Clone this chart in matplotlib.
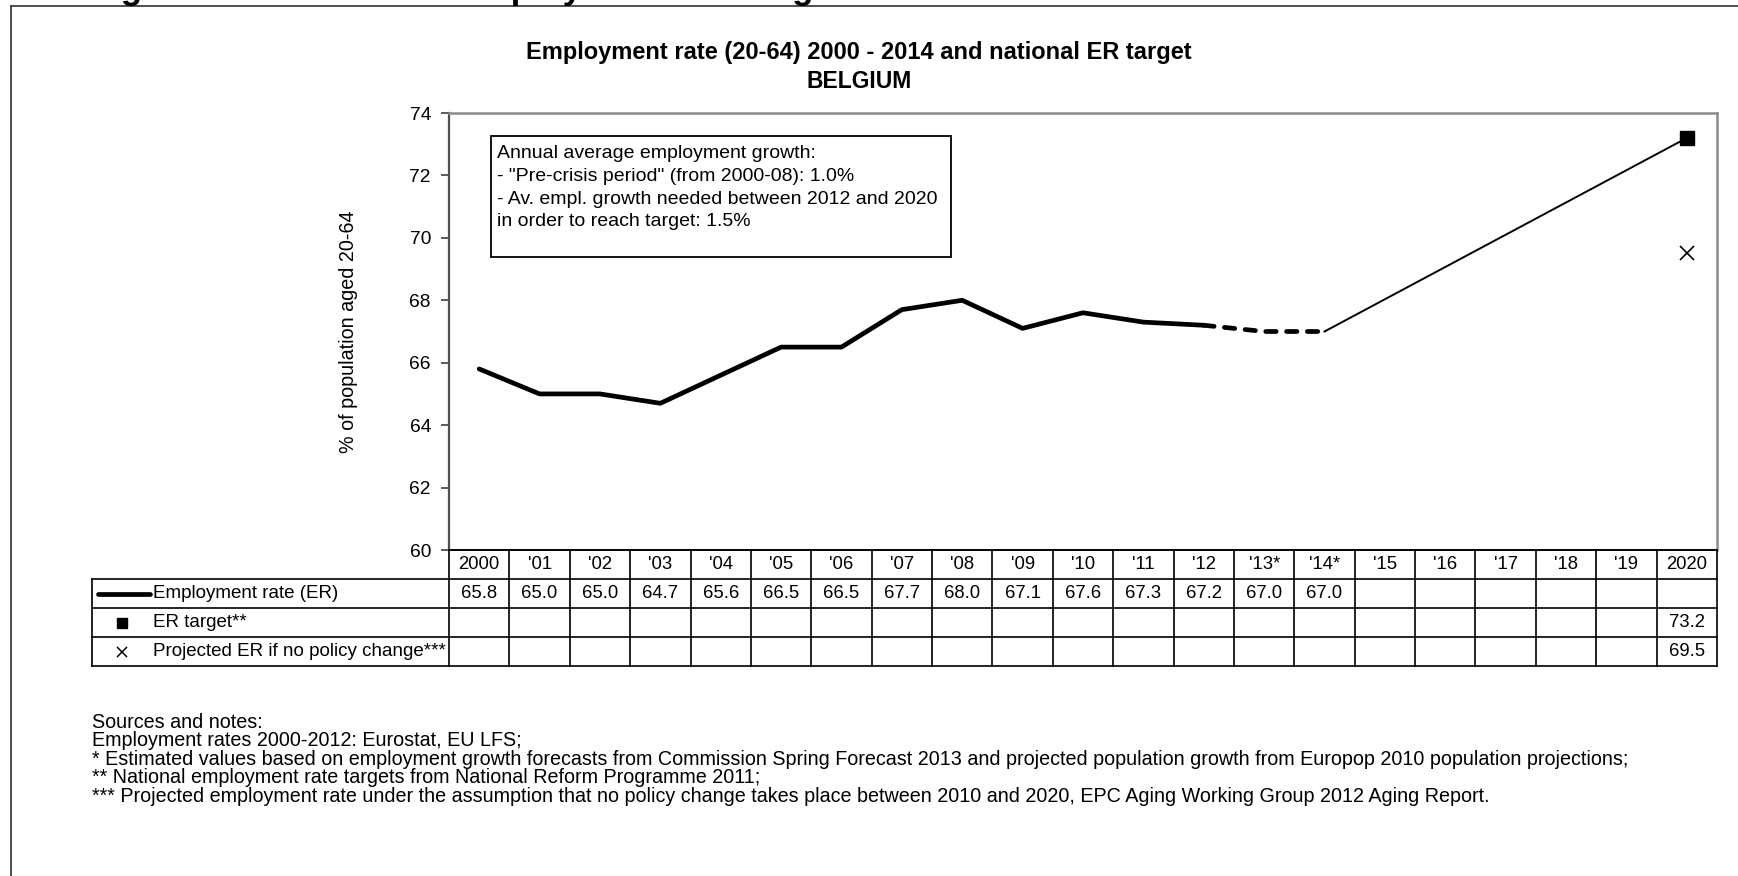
import matplotlib
matplotlib.use('Agg')
import matplotlib.pyplot as plt
from matplotlib.transforms import blended_transform_factory
from matplotlib.patches import Rectangle
from matplotlib.lines import Line2D

plt.rcParams['font.family'] = ['Liberation Sans', 'DejaVu Sans']

# ---------------- data ----------------
years = ["2000", "'01", "'02", "'03", "'04", "'05", "'06", "'07", "'08", "'09",
         "'10", "'11", "'12", "'13*", "'14*", "'15", "'16", "'17", "'18", "'19", "2020"]
er_values = [65.8, 65.0, 65.0, 64.7, 65.6, 66.5, 66.5, 67.7, 68.0, 67.1,
             67.6, 67.3, 67.2, 67.0, 67.0]
last_actual = 12          # index of 2012: values after it are estimates
er_target = 73.2
er_projected = 69.5
yticks = [60, 62, 64, 66, 68, 70, 72, 74]
row_labels = ["Employment rate (ER)", "ER target**", "Projected ER if no policy change***"]
title_lines = ["Employment rate (20-64) 2000 - 2014 and national ER target", "BELGIUM"]
ylabel = "% of population aged 20-64"
box_lines = ["Annual average employment growth:",
             "- \"Pre-crisis period\" (from 2000-08): 1.0%",
             "- Av. empl. growth needed between 2012 and 2020",
             "in order to reach target: 1.5%"]
notes = ["Sources and notes:",
         "Employment rates 2000-2012: Eurostat, EU LFS;",
         "* Estimated values based on employment growth forecasts from Commission Spring Forecast 2013 and projected population growth from Europop 2010 population projections;",
         "** National employment rate targets from National Reform Programme 2011;",
         "*** Projected employment rate under the assumption that no policy change takes place between 2010 and 2020, EPC Aging Working Group 2012 Aging Report."]
page_title = "Figure 1: Evolution of Employment rate target"

# ---------------- layout ----------------
W, H = 1738, 876
fig = plt.figure(figsize=(W / 100, H / 100), dpi=100)
fig.patch.set_facecolor('white')

def fx(px):
    return px / W

def fy(py):
    return 1 - py / H

AX_L, AX_R, AX_T, AX_B = 449, 1717, 113, 550
ax = fig.add_axes([fx(AX_L), fy(AX_B), fx(AX_R) - fx(AX_L), fy(AX_T) - fy(AX_B)])
AXW, AXH = AX_R - AX_L, AX_B - AX_T

def axx(px):
    return (px - AX_L) / AXW

def axy(py):
    return (AX_B - py) / AXH

n = len(years)
ax.set_xlim(-0.5, n - 0.5)
ax.set_ylim(yticks[0], yticks[-1])
ax.set_yticks(yticks)
ax.set_xticks([])
ax.tick_params(axis='y', length=6, width=1.2, pad=7, labelsize=13.8,
               color='#404040', labelcolor='black')
for s in ['top', 'right']:
    ax.spines[s].set_color('#8c8c8c')
    ax.spines[s].set_linewidth(1.8)
ax.spines['left'].set_color('#505050')
ax.spines['left'].set_linewidth(1.6)
ax.spines['bottom'].set_color('black')
ax.spines['bottom'].set_linewidth(1.2)

# ---------------- series ----------------
xs = list(range(len(er_values)))
ax.plot(xs[:last_actual + 1], er_values[:last_actual + 1], color='black', lw=3.4,
        solid_capstyle='round', solid_joinstyle='round', zorder=3)
ax.plot(xs[last_actual:], er_values[last_actual:], color='black', lw=3.4,
        dashes=(2.2, 2.2), dash_capstyle='round', zorder=3)
ax.plot([xs[-1], n - 1], [er_values[-1], er_target], color='black', lw=1.4, zorder=3)
ax.plot([n - 1], [er_target], marker='s', ms=9.5, color='black', ls='none', zorder=4)
ax.plot([n - 1], [er_projected], marker='x', ms=9.5, mew=1.2, color='black', ls='none', zorder=4)

# ---------------- annotation box ----------------
ax.add_patch(Rectangle((axx(491), axy(257)), axx(951) - axx(491), axy(136) - axy(257),
                       transform=ax.transAxes, facecolor='white', edgecolor='black',
                       lw=1.3, zorder=2))
for i, line in enumerate(box_lines):
    ax.text(axx(497), axy(154 + 22.5 * i), line, transform=ax.transAxes,
            fontsize=14, ha='left', va='center', zorder=5)

# ---------------- table ----------------
row_px = [550, 579, 608, 637, 666]
ry = [axy(p) for p in row_px]
lab_left = axx(92)
tcol = blended_transform_factory(ax.transData, ax.transAxes)
lkw = dict(color='black', lw=1.2, clip_on=False, zorder=5)

# horizontal lines
ax.add_line(Line2D([0, 1], [ry[0], ry[0]], transform=ax.transAxes, **lkw))
for y in ry[1:]:
    ax.add_line(Line2D([lab_left, 1], [y, y], transform=ax.transAxes, **lkw))
# vertical lines
for i in range(n + 1):
    ax.add_line(Line2D([i - 0.5, i - 0.5], [ry[0], ry[-1]], transform=tcol, **lkw))
ax.add_line(Line2D([lab_left, lab_left], [ry[1], ry[-1]], transform=ax.transAxes, **lkw))

def rc(r):
    return (ry[r] + ry[r + 1]) / 2

for i, lab in enumerate(years):
    ax.text(i, rc(0), lab, transform=tcol, ha='center', va='center', fontsize=13.3, clip_on=False)
for i, v in enumerate(er_values):
    ax.text(i, rc(1), f"{v:.1f}", transform=tcol, ha='center', va='center', fontsize=13.3, clip_on=False)
ax.text(n - 1, rc(2), f"{er_target:.1f}", transform=tcol, ha='center', va='center', fontsize=13.3, clip_on=False)
ax.text(n - 1, rc(3), f"{er_projected:.1f}", transform=tcol, ha='center', va='center', fontsize=13.3, clip_on=False)

# row labels with legend keys
ax.add_line(Line2D([axx(98), axx(150)], [rc(1), rc(1)], transform=ax.transAxes,
                   color='black', lw=3.4, solid_capstyle='round', clip_on=False))
ax.add_line(Line2D([axx(122)], [rc(2)], transform=ax.transAxes, marker='s', ms=7,
                   color='black', ls='none', clip_on=False))
ax.add_line(Line2D([axx(122)], [rc(3)], transform=ax.transAxes, marker='x', ms=7.5,
                   mew=1.1, color='black', ls='none', clip_on=False))
for r, lab in enumerate(row_labels):
    ax.text(axx(153), rc(r + 1), lab, transform=ax.transAxes, ha='left', va='center',
            fontsize=13.5, clip_on=False)

# ---------------- titles and labels ----------------
fig.text(fx(859), fy(52), title_lines[0], ha='center', va='center', fontsize=17, fontweight='bold')
fig.text(fx(859), fy(81), title_lines[1], ha='center', va='center', fontsize=16.5, fontweight='bold')
fig.text(fx(349), fy(332), ylabel, ha='center', va='center', rotation=90, fontsize=14.2)

for i, line in enumerate(notes):
    fig.text(fx(92), fy(722 + 18.6 * i), line, ha='left', va='center', fontsize=14.2)

# page frame and cut-off page title
fig.add_artist(Line2D([fx(11), fx(11)], [fy(6), 0], transform=fig.transFigure, color='#404040', lw=1.3))
fig.add_artist(Line2D([fx(11), 1], [fy(6), fy(6)], transform=fig.transFigure, color='#404040', lw=1.3))
fig.text(fx(90), 1 + 1.5 / H, page_title, ha='left', va='baseline', fontsize=25, fontweight='bold')

fig.savefig('out.png', dpi=100, facecolor='white')
